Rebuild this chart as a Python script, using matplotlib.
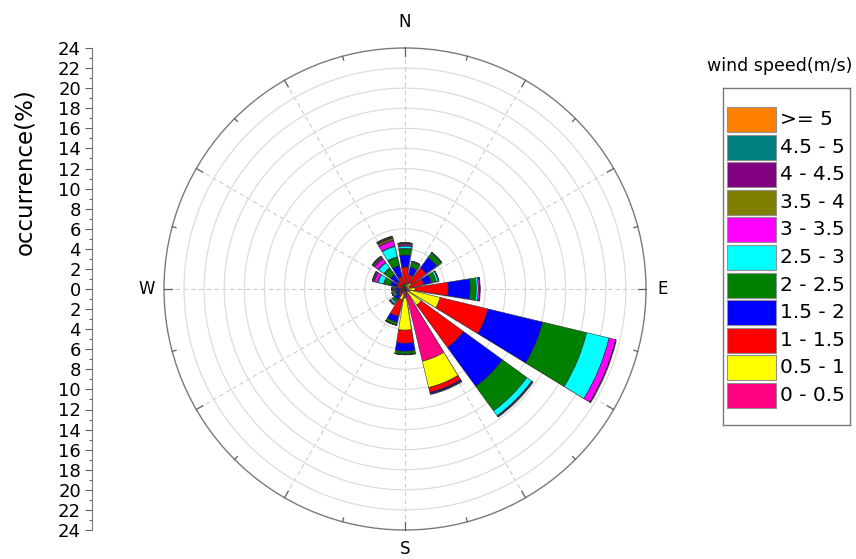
import numpy as np
import matplotlib
matplotlib.use("Agg")
import matplotlib.pyplot as plt
from matplotlib.patches import Rectangle
import matplotlib.patheffects as pe

# ─── Data (occurrence % per direction, per speed bin) ─────────────────────────

directions = ["N", "NNE", "NE", "ENE", "E", "ESE", "SE", "SSE",
              "S", "SSW", "SW", "WSW", "W", "WNW", "NW", "NNW"]
dir_deg = np.arange(16) * 22.5

speed_bins = ["0 - 0.5", "0.5 - 1", "1 - 1.5", "1.5 - 2", "2 - 2.5", "2.5 - 3",
              "3 - 3.5", "3.5 - 4", "4 - 4.5", "4.5 - 5", ">= 5"]
bin_colors = ["#FF0080", "#FFFF00", "#FF0000", "#0000FF", "#008000", "#00FFFF",
              "#FF00FF", "#808000", "#800080", "#008080", "#FF8000"]

#                N    NNE   NE   ENE   E    ESE   SE   SSE   S    SSW   SW   WSW   W   WNW   NW   NNW
s_00_05 = [0.1, 0.1, 0.1, 0.1, 0.2, 0.5, 0.3, 7.4, 0.9, 0.2, 0.1, 0.1, 0.1, 0.1, 0.1, 0.1]
s_05_10 = [0.3, 0.5, 0.7, 0.4, 0.8, 3.1, 1.7, 2.7, 3.2, 0.9, 0.2, 0.2, 0.2, 0.2, 0.2, 0.2]
s_10_15 = [1.8, 0.9, 1.8, 1.4, 3.3, 4.9, 5.2, 0.5, 1.3, 1.7, 0.5, 0.3, 0.3, 0.6, 0.7, 1.0]
s_15_20 = [1.2, 0.75, 1.3, 0.8, 2.2, 5.6, 4.8, 0.15, 0.8, 0.6, 0.5, 0.3, 0.3, 0.6, 0.8, 1.1]
s_20_25 = [0.65, 0.5, 0.5, 0.5, 0.6, 4.5, 3.0, 0.0, 0.3, 0.3, 0.3, 0.2, 0.2, 0.7, 0.8, 0.9]
s_25_30 = [0.25, 0.1, 0.1, 0.2, 0.2, 2.3, 0.6, 0.0, 0.0, 0.0, 0.2, 0.15, 0.1, 0.6, 0.7, 1.1]
s_30_35 = [0.15, 0.0, 0.0, 0.05, 0.15, 0.7, 0.1, 0.0, 0.0, 0.0, 0.1, 0.1, 0.1, 0.4, 0.5, 0.6]
s_35_40 = [0.1, 0.0, 0.0, 0.0, 0.0, 0.0, 0.0, 0.0, 0.0, 0.0, 0.0, 0.0, 0.0, 0.1, 0.15, 0.25]
s_40_45 = [0.05, 0.0, 0.0, 0.0, 0.0, 0.0, 0.0, 0.0, 0.0, 0.0, 0.0, 0.0, 0.0, 0.05, 0.05, 0.1]
s_45_50 = [0.0, 0.0, 0.0, 0.0, 0.0, 0.0, 0.0, 0.0, 0.0, 0.0, 0.0, 0.0, 0.0, 0.0, 0.05, 0.05]
s_50_up = [0.0] * 16

bin_values = [s_00_05, s_05_10, s_10_15, s_15_20, s_20_25, s_25_30,
              s_30_35, s_35_40, s_40_45, s_45_50, s_50_up]

r_max = 24
r_ticks = np.arange(0, r_max + 1, 2)

# ─── Figure ───────────────────────────────────────────────────────────────────

W, H = 856, 559
fig = plt.figure(figsize=(W / 100, H / 100), dpi=100)
cx, cy, rad = 405, 289, 241

ax = fig.add_axes([(cx - rad) / W, (H - cy - rad) / H, 2 * rad / W, 2 * rad / H],
                  projection="polar")
ax.set_theta_zero_location("N")
ax.set_theta_direction(-1)
ax.set_ylim(0, r_max)
ax.set_axisbelow(True)

theta = np.deg2rad(dir_deg)
width = np.deg2rad(22.5 * 0.8)
bottom = np.zeros(16)
shadow = [pe.SimplePatchShadow(offset=(0.7, -0.7), shadow_rgbFace="#202040", alpha=0.6),
          pe.Normal()]
for vals, col in zip(bin_values, bin_colors):
    vals = np.asarray(vals)
    bars = ax.bar(theta, vals, width=width, bottom=bottom, color=col,
                  edgecolor="#303030", linewidth=0.4, zorder=3)
    for b in bars:
        b.set_path_effects(shadow)
    bottom = bottom + vals

# grid: rings solid, spokes dashed
ax.set_yticks(r_ticks[1:-1])
ax.set_yticklabels([])
ax.yaxis.grid(True, color="#dcdcdc", linestyle="-", linewidth=0.9)
ax.set_xticks(np.deg2rad(np.arange(0, 360, 30)))
ax.set_xticklabels([])
ax.xaxis.grid(True, color="#cccccc", linestyle=(0, (4, 3)), linewidth=0.8)
ax.spines["polar"].set_color("#7a7a7a")
ax.spines["polar"].set_linewidth(1.0)

# inward tick marks on the outer circle (major every 30°, minor in between)
for deg in np.arange(0, 360, 15):
    inner = r_max - (0.75 if deg % 30 == 0 else 0.4)
    ax.plot([np.deg2rad(deg)] * 2, [inner, r_max], color="#606060",
            linewidth=0.9, zorder=4, clip_on=False)

# compass labels
for lab, (px, py) in {"N": (405, 22), "E": (663, 289),
                      "S": (405, 549), "W": (147, 289)}.items():
    fig.text(px / W, 1 - py / H, lab, fontsize=12, ha="center", va="center")

# ─── Left occurrence scale ────────────────────────────────────────────────────

ax_y = fig.add_axes([92 / W, (H - cy - rad) / H, 0.0001, 2 * rad / H])
ax_y.set_ylim(-r_max, r_max)
ax_y.set_xticks([])
ax_y.set_yticks(np.arange(-r_max, r_max + 1, 2))
ax_y.set_yticklabels([str(abs(v)) for v in range(-r_max, r_max + 1, 2)], fontsize=13)
ax_y.set_yticks(np.arange(-r_max, r_max + 1, 1), minor=True)
ax_y.tick_params(axis="y", which="major", length=5, width=0.8, color="#606060", pad=3)
ax_y.tick_params(axis="y", which="minor", length=2.5, width=0.8, color="#606060")
for side in ["top", "right", "bottom"]:
    ax_y.spines[side].set_visible(False)
ax_y.spines["left"].set_color("#7a7a7a")
ax_y.patch.set_visible(False)

fig.text(25 / W, 1 - 172 / H, "occurrence(%)", rotation=90, fontsize=16.5,
         ha="center", va="center")

# ─── Legend ───────────────────────────────────────────────────────────────────

fig.text(780 / W, 1 - 66 / H, "wind speed(m/s)", fontsize=12.5, ha="center", va="center")

lx0, ly0, lw, lh = 723, 88, 127, 337
ax_l = fig.add_axes([lx0 / W, 1 - (ly0 + lh) / H, lw / W, lh / H])
ax_l.set_xlim(0, lw)
ax_l.set_ylim(lh, 0)
ax_l.set_xticks([])
ax_l.set_yticks([])
for sp in ax_l.spines.values():
    sp.set_color("#7a7a7a")
    sp.set_linewidth(1.0)

row_h = 27.6
for i, (lab, col) in enumerate(zip(speed_bins[::-1], bin_colors[::-1])):
    top = 19 + i * row_h
    ax_l.add_patch(Rectangle((4, top), 49, 25, facecolor=col,
                             edgecolor="#909090", linewidth=0.8))
    ax_l.text(57, top + 12.5, lab, fontsize=14.5, va="center", ha="left")

fig.savefig("out.png", dpi=100)
